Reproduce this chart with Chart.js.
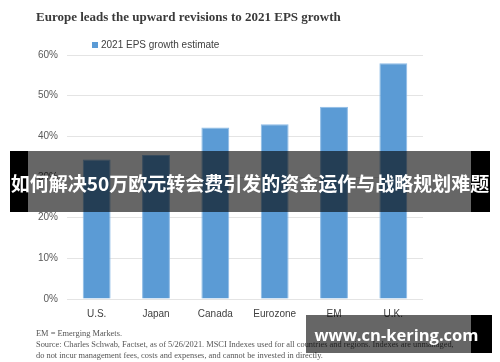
<!DOCTYPE html>
<html>
<head>
<meta charset="utf-8">
<script src="https://cdn.jsdelivr.net/npm/chart.js@4"></script>
<style>
  body { margin: 0; background: #fff; }
  #wrap { position: relative; width: 500px; height: 362px; overflow: hidden; }
  #chart { position: absolute; left: 0; top: 0; }
  .title { position: absolute; left: 36px; top: 9px; font: bold 13px "Liberation Serif", serif; color: #3a3a3a; white-space: nowrap; }
  .legend { position: absolute; left: 92px; top: 39px; font: 10px "Liberation Sans", Arial, sans-serif; color: #404040; white-space: nowrap; }
  .legend i { display: inline-block; width: 6px; height: 6px; background: #5b9bd5; margin-right: 3px; }
  .note { position: absolute; left: 36px; top: 328px; font: 8.4px "Liberation Serif", serif; line-height: 11.2px; color: #555; white-space: nowrap; }
  .blk { position: absolute; background: #000; }
  .gry { position: absolute; background: rgba(0, 0, 0, 0.6); }
  .banner { position: absolute; left: 10px; top: 151px; width: 480px; height: 61px; text-align: center;
    font: bold 19px "Noto Sans CJK SC", sans-serif; line-height: 64px; color: #fff; white-space: nowrap; }
  .wm { position: absolute; left: 306px; top: 315px; width: 181px; height: 38px; text-align: center;
    font: bold 16.5px "Open Sans", sans-serif; line-height: 40px; color: #fff; white-space: nowrap; }
</style>
</head>
<body>
<div id="wrap">
  <canvas id="chart" width="500" height="362"></canvas>
  <div class="title">Europe leads the upward revisions to 2021 EPS growth</div>
  <div class="legend"><i></i>2021 EPS growth estimate</div>
  <div class="note">EM = Emerging Markets.<br>Source: Charles Schwab, Factset, as of 5/26/2021. MSCI Indexes used for all countries and regions. Indexes are unmanaged,<br>do not incur management fees, costs and expenses, and cannot be invested in directly.</div>

  <div class="blk" style="left:10px;top:151px;width:18px;height:61px"></div>
  <div class="gry" style="left:28px;top:151px;width:443px;height:61px"></div>
  <div class="blk" style="left:471px;top:151px;width:19px;height:61px"></div>
  <div class="banner">如何解决50万欧元转会费引发的资金运作与战略规划难题</div>

  <div class="gry" style="left:306px;top:315px;width:165px;height:38px"></div>
  <div class="blk" style="left:471px;top:315px;width:21px;height:38px"></div>
  <div class="wm">www.cn-kering.com</div>
</div>
<script>
'use strict';

let regions = ['U.S.', 'Japan', 'Canada', 'Eurozone', 'EM', 'U.K.'];
let epsGrowth = [34.3, 35.4, 42.2, 43.0, 47.3, 58.0];
let yTicks = [0, 10, 20, 30, 40, 50, 60];

let ctx = document.getElementById('chart').getContext('2d');
new Chart(ctx, {
    type: 'bar',
    data: {
        labels: regions,
        datasets: [{
            label: '2021 EPS growth estimate',
            data: epsGrowth,
            backgroundColor: '#5b9bd5',
            borderColor: '#8dbbe6',
            borderWidth: 1,
            categoryPercentage: 1,
            barPercentage: 0.47
        }]
    },
    options: {
        responsive: false,
        animation: false,
        layout: { padding: { left: 0, right: 77, top: 55, bottom: 43 } },
        plugins: { legend: { display: false }, tooltip: { enabled: false } },
        scales: {
            x: {
                grid: { display: false },
                border: { display: false },
                ticks: { color: '#404040', font: { family: 'Liberation Sans', size: 10 }, padding: 1 },
                afterFit: function (scale) { scale.height = 20; }
            },
            y: {
                min: yTicks[0],
                max: yTicks[yTicks.length - 1],
                afterBuildTicks: function (scale) {
                    scale.ticks = yTicks.map(function (v) { return { value: v }; });
                },
                grid: { color: '#e4e4e4', drawTicks: false },
                border: { display: false },
                ticks: {
                    color: '#595959',
                    font: { family: 'Liberation Sans', size: 10 },
                    padding: 9,
                    callback: function (v) { return v + '%'; }
                },
                afterFit: function (scale) { scale.width = 67; }
            }
        }
    }
});
</script>
</body>
</html>
